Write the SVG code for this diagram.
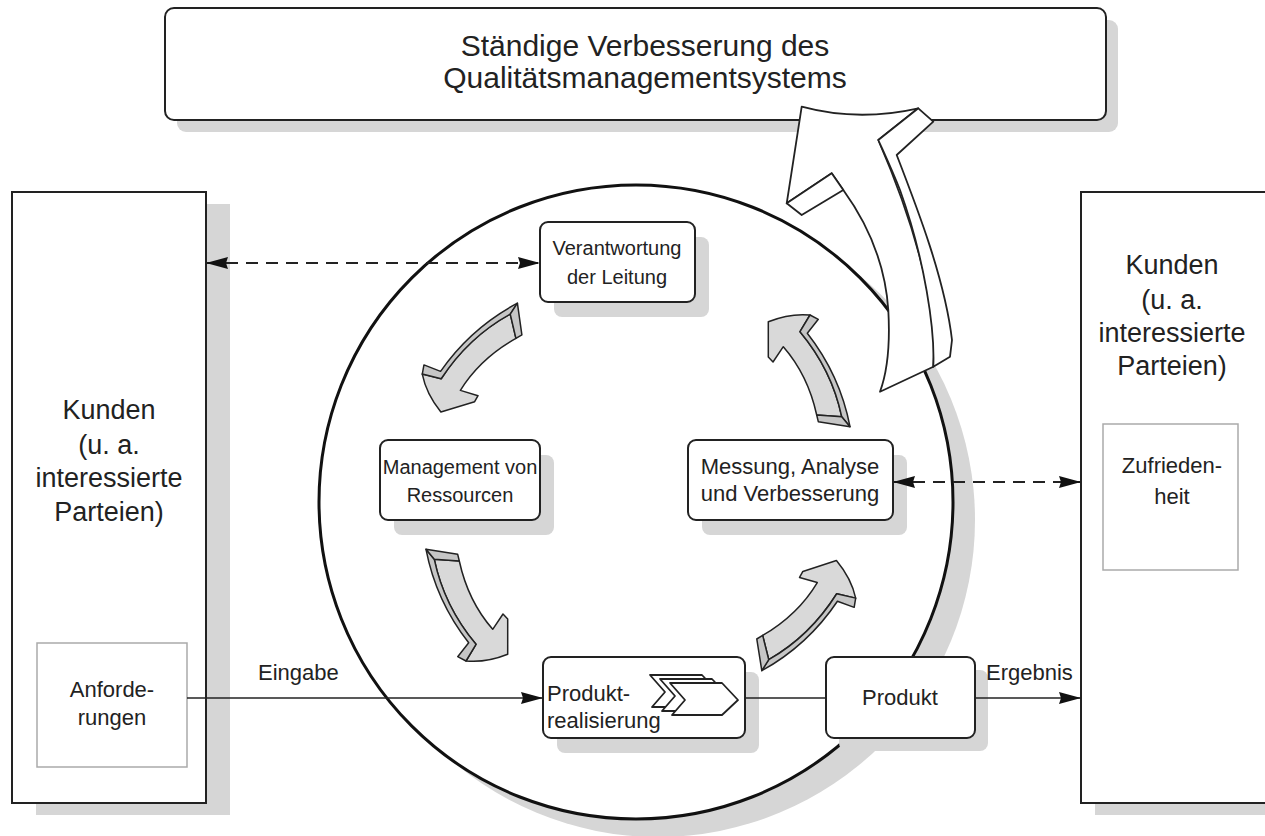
<svg xmlns="http://www.w3.org/2000/svg" xmlns:xlink="http://www.w3.org/1999/xlink" width="1265" height="836" viewBox="0 0 1265 836">
<style>
text{font-family:"Liberation Sans",Arial,sans-serif;fill:#222;text-anchor:middle}
.box{fill:#fff;stroke:#222;stroke-width:2}
.shadow{fill:#d6d6d6}
.thin{fill:#fff;stroke:#aaa;stroke-width:1.5}
.big{font-size:27px}
.mid{font-size:22px}
.lbl{font-size:22px;text-anchor:start}
.dash{stroke:#222;stroke-width:2;stroke-dasharray:12 8;fill:none}
.line{stroke:#222;stroke-width:1.6;fill:none}
.gf{fill:#d9d9d9;stroke:#222;stroke-width:1.5;stroke-linejoin:round}
.gd{fill:#c6c6c6;stroke:#222;stroke-width:1.5;stroke-linejoin:round}
.wf{fill:#fff;stroke:#222;stroke-width:1.8;stroke-linejoin:round}
</style>
<defs>
<marker id="ah" viewBox="0 0 22 12" refX="22" refY="6" markerWidth="22" markerHeight="12" markerUnits="userSpaceOnUse" orient="auto-start-reverse">
<path d="M0,0 L22,6 L0,12 L2,6 Z" fill="#111"/>
</marker>
<g id="garrow">
<path class="gf" d="M768.3,321.7 Q790,313 810,315 L800,331.7 Q832,370 841.7,416.7 L816.7,415 Q808,375 783.3,346.7 L773,362 L768.3,357 Z"/>
<path class="gd" d="M810,315 L818.3,319.3 L807.3,333.3 Q840,375 850,426.7 L841.7,416.7 Q832,370 800,331.7 Z"/>
<path class="gd" d="M816.7,415 L841.7,416.7 L850,426.7 L818.3,421.7 Z"/>
</g>
</defs>

<g id="top-box">
<rect class="shadow" x="177" y="20" width="941" height="112" rx="9"/>
<rect class="box" x="165" y="8" width="941" height="112" rx="9"/>
<text x="645" y="56" style="font-size:30px">Ständige Verbesserung des</text>
<text x="645" y="88" style="font-size:30px">Qualitätsmanagementsystems</text>
</g>

<g id="kunden-left">
<rect class="shadow" x="36" y="204" width="194" height="611"/>
<rect class="box" x="12" y="192" width="194" height="611"/>
<text class="big" x="109" y="419">Kunden</text>
<text class="big" x="109" y="454">(u. a.</text>
<text class="big" x="109" y="487">interessierte</text>
<text class="big" x="109" y="521">Parteien)</text>
</g>
<g id="anforderungen">
<rect class="thin" x="37" y="643" width="150" height="124"/>
<text class="mid" x="112" y="697">Anforde-</text>
<text class="mid" x="112" y="725">rungen</text>
</g>

<g id="kunden-right">
<rect class="shadow" x="1095" y="204" width="200" height="611"/>
<rect class="box" x="1081" y="192" width="200" height="611"/>
<text class="big" x="1172" y="274">Kunden</text>
<text class="big" x="1172" y="309">(u. a.</text>
<text class="big" x="1172" y="342">interessierte</text>
<text class="big" x="1172" y="375">Parteien)</text>
</g>
<g id="zufriedenheit">
<rect class="thin" x="1103" y="424" width="135" height="146"/>
<text class="mid" x="1172" y="473">Zufrieden-</text>
<text class="mid" x="1172" y="504">heit</text>
</g>

<g id="cycle">
<circle class="shadow" cx="658" cy="520" r="317"/>
<circle cx="636" cy="502" r="317" fill="#fff" stroke="#111" stroke-width="3"/>
</g>

<g id="verantwortung">
<rect class="shadow" x="554" y="237" width="155" height="80" rx="8"/>
<rect class="box" x="540" y="222" width="155" height="80" rx="8"/>
<text x="617" y="255" style="font-size:20px">Verantwortung</text>
<text x="617" y="284" style="font-size:20px">der Leitung</text>
</g>

<g id="management">
<rect class="shadow" x="394" y="455" width="160" height="80" rx="8"/>
<rect class="box" x="380" y="440" width="160" height="80" rx="8"/>
<text x="460" y="474" style="font-size:20px">Management von</text>
<text x="460" y="502" style="font-size:20px">Ressourcen</text>
</g>

<g id="messung">
<rect class="shadow" x="702" y="455" width="205" height="80" rx="8"/>
<rect class="box" x="688" y="440" width="205" height="80" rx="8"/>
<text class="mid" x="790" y="474">Messung, Analyse</text>
<text class="mid" x="790" y="501">und Verbesserung</text>
</g>

<g id="produktrealisierung">
<rect class="shadow" x="557" y="672" width="202" height="81" rx="8"/>
<rect class="box" x="543" y="657" width="202" height="81" rx="8"/>
<text class="lbl" x="547" y="701">Produkt-</text>
<text class="lbl" x="547" y="728">realisierung</text>
<g class="wf">
<path d="M650,675 L702,675 L718,692 L702,707 L652,707 L665,692 Z"/>
<path d="M660,679 L712,679 L728,696 L712,711 L662,711 L675,696 Z"/>
<path d="M670,683 L722,683 L738,700 L722,715 L672,715 L685,700 Z"/>
</g>
</g>

<g id="produkt">
<rect class="shadow" x="839" y="670" width="149" height="81" rx="8"/>
<rect class="box" x="826" y="657" width="149" height="81" rx="8"/>
<text class="mid" x="900" y="705">Produkt</text>
</g>

<g id="cycle-arrows">
<use xlink:href="#garrow"/>
<use xlink:href="#garrow" transform="rotate(-107 638 488)"/>
<use xlink:href="#garrow" transform="rotate(180 638 488)"/>
<use xlink:href="#garrow" transform="rotate(72 638 488)"/>
</g>

<g id="improvement-arrow">
<path class="wf" d="M801.7,106.7 Q858,122 918.3,108.3 L878.3,140 C900,190 925,260 935,330 L933.3,366.7 L880,391.7 C888,370 890,340 888.3,310 C885,260 865,220 843.3,190 L831.7,173.3 L786.7,203.3 C792,170 798,130 801.7,106.7 Z"/>
<path class="wf" d="M786.7,203.3 L831.7,173.3 L843.3,190 L801.7,215 Z"/>
<path class="wf" d="M918.3,108.3 L933.3,121.7 L896.7,155 C918,210 945,280 952,340 L950,356.7 L933.3,366.7 C935,330 925,260 900,190 C892,170 885,155 878.3,140 Z"/>
</g>

<g id="connectors">
<path class="dash" d="M206,263 L540,263" marker-start="url(#ah)" marker-end="url(#ah)"/>
<path class="dash" d="M893,482 L1081,482" marker-start="url(#ah)" marker-end="url(#ah)"/>
<path class="line" d="M187,698 L543,698" marker-end="url(#ah)"/>
<path class="line" d="M745,698 L826,698"/>
<path class="line" d="M975,698 L1081,698" marker-end="url(#ah)"/>
<text class="lbl" x="258" y="680">Eingabe</text>
<text class="lbl" x="986" y="680">Ergebnis</text>
</g>
</svg>
